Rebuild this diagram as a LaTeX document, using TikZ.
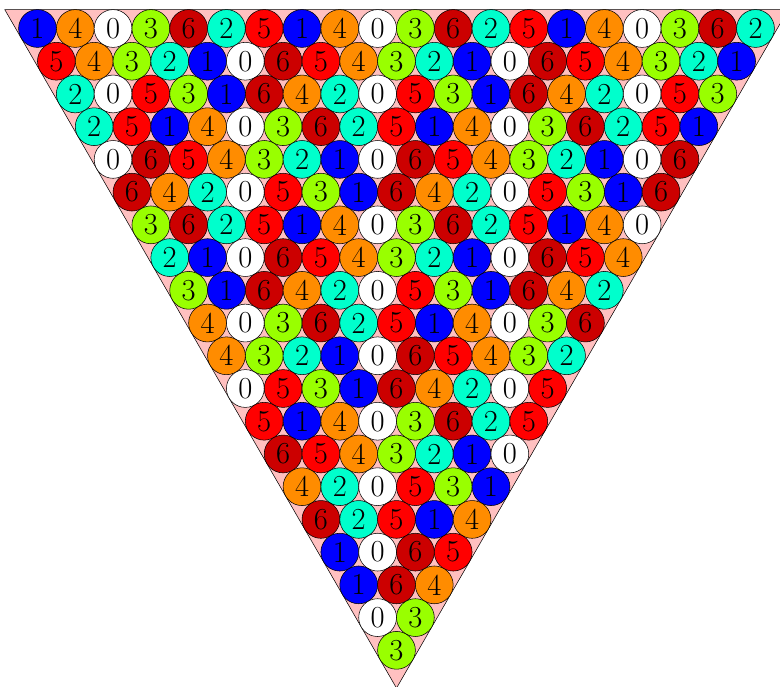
\documentclass[tikz,border=0pt]{standalone}
\usepackage{xcolor}
\usepackage{tikz}

\definecolor{c0}{HTML}{FFFFFF}
\definecolor{c1}{HTML}{0000FF}
\definecolor{c2}{HTML}{00FFCC}
\definecolor{c3}{HTML}{99FF00}
\definecolor{c4}{HTML}{FF8C00}
\definecolor{c5}{HTML}{FF0000}
\definecolor{c6}{HTML}{CC0000}
\definecolor{bgpink}{HTML}{FFC0C0}

\begin{document}
\begin{tikzpicture}[
  disc/.style={circle, draw, inner sep=0pt, minimum size=1cm, font=\fontsize{23}{23}\selectfont},
  frame/.style={draw, fill=bgpink}
]
\useasboundingbox (-0.992,-17.425) rectangle (19.648,0.754);
\clip (-0.992,-17.425) rectangle (19.648,0.754);

% enclosing triangle
\coordinate (tl) at (-0.866,0.5);
\coordinate (tr) at (19.866,0.5);
\coordinate (apex) at (9.5,-17.454);
\path[frame] (tl) -- (tr) -- (apex) -- cycle;

% rows of discs, each value = sum of the two above mod 7
\foreach \row [count=\k from 0] in {
  {1,4,0,3,6,2,5,1,4,0,3,6,2,5,1,4,0,3,6,2},
  {5,4,3,2,1,0,6,5,4,3,2,1,0,6,5,4,3,2,1},
  {2,0,5,3,1,6,4,2,0,5,3,1,6,4,2,0,5,3},
  {2,5,1,4,0,3,6,2,5,1,4,0,3,6,2,5,1},
  {0,6,5,4,3,2,1,0,6,5,4,3,2,1,0,6},
  {6,4,2,0,5,3,1,6,4,2,0,5,3,1,6},
  {3,6,2,5,1,4,0,3,6,2,5,1,4,0},
  {2,1,0,6,5,4,3,2,1,0,6,5,4},
  {3,1,6,4,2,0,5,3,1,6,4,2},
  {4,0,3,6,2,5,1,4,0,3,6},
  {4,3,2,1,0,6,5,4,3,2},
  {0,5,3,1,6,4,2,0,5},
  {5,1,4,0,3,6,2,5},
  {6,5,4,3,2,1,0},
  {4,2,0,5,3,1},
  {6,2,5,1,4},
  {1,0,6,5},
  {1,6,4},
  {0,3},
  {3}} {
  \foreach \v [count=\i from 0] in \row {
    \node[disc, fill=c\v] (d-\k-\i) at ({\k/2+\i},{-\k*0.866025}) {\v};
  }
}
\end{tikzpicture}
\end{document}
